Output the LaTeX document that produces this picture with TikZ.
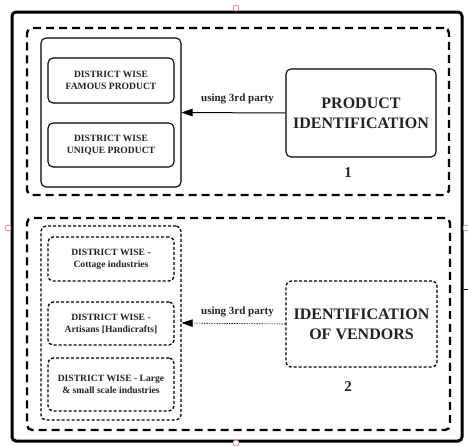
\documentclass[tikz,border=0pt]{standalone}
\usepackage{fontspec}
\setmainfont{Liberation Serif}
\usetikzlibrary{arrows.meta}
\definecolor{ink}{HTML}{222222}
\definecolor{handle}{HTML}{D98C99}
\tikzset{
  frame/.style={draw=black, line width=3pt, rounded corners=4pt},
  section/.style={draw=black, line width=2.4pt, rounded corners=5pt,
    dash pattern=on 8pt off 5pt},
  holder/.style={draw=black, line width=1.1pt, rounded corners=5pt},
  holderdot/.style={draw=black, line width=1.3pt, rounded corners=5pt,
    dash pattern=on 3pt off 2pt},
  itembox/.style={draw=black, line width=1.1pt, rounded corners=5pt,
    minimum width=126pt, align=center, text=ink,
    font=\fontsize{9.6}{12}\selectfont\bfseries},
  itemdot/.style={itembox, line width=1.3pt, dash pattern=on 3pt off 2pt},
  bigbox/.style={draw=black, line width=1.1pt, rounded corners=5pt,
    align=center, text=ink, font=\fontsize{16}{20}\selectfont\bfseries},
  bigdot/.style={bigbox, line width=1.3pt, dash pattern=on 3pt off 2pt},
  tag/.style={text=ink, font=\fontsize{11}{13}\selectfont\bfseries},
  num/.style={text=ink, font=\fontsize{15}{17}\selectfont\bfseries},
  link/.style={draw=black, line width=1pt, -{Triangle[length=11pt,width=7.5pt]}},
  linkdot/.style={draw=black, line width=0.6pt, dash pattern=on 1.5pt off 1pt,
    -{Triangle[length=11pt,width=7.5pt]}},
}
\begin{document}
\begin{tikzpicture}[x=1pt,y=-1pt]
\useasboundingbox (0,0) rectangle (468,445);

% outer frame and the two sections
\node[frame, minimum width=450pt, minimum height=429pt] (outer) at (237,226.5) {};
\node[section, minimum width=422pt, minimum height=167pt] (sec1) at (238,111.5) {};
\node[section, minimum width=423pt, minimum height=212pt] (sec2) at (238.5,324) {};

% section 1: products
\node[holder, minimum width=140pt, minimum height=149pt] (hold1) at (111,112.5) {};
\node[itembox, minimum height=45pt] (famous) at (111,80.5) {DISTRICT WISE\\FAMOUS PRODUCT};
\node[itembox, minimum height=44pt] (unique) at (111,145) {DISTRICT WISE\\UNIQUE PRODUCT};
\node[bigbox, minimum width=150pt, minimum height=88pt] (prodid) at (361,113) {PRODUCT\\IDENTIFICATION};
\node[num] (n1) at (348,173) {1};
\draw[link] (prodid.west) -- (hold1.east);
\node[tag] (tag1) at (237.5,99) {using 3rd party};

% section 2: vendors
\node[holderdot, minimum width=140pt, minimum height=194pt] (hold2) at (111,323) {};
\node[itemdot, minimum height=44pt] (cottage) at (111,259) {DISTRICT WISE -\\Cottage industries};
\node[itemdot, minimum height=43pt] (artisans) at (111,323.5) {DISTRICT WISE -\\Artisans [Handicrafts]};
\node[itemdot, minimum height=53pt] (large) at (111,384.5) {DISTRICT WISE - Large\\\& small scale industries};
\node[bigdot, minimum width=151pt, minimum height=86pt] (vendors) at (361.5,324) {IDENTIFICATION\\OF VENDORS};
\node[num] (n2) at (348,387) {2};
\draw[linkdot] (vendors.west) -- (hold2.east);
\node[tag] (tag2) at (237.5,312) {using 3rd party};

% short stub leaving the frame on the right
\coordinate (stub) at (468,289);
\draw[black, line width=0.6pt] (outer.east |- stub) -- (stub);

% selection handles on the frame
\foreach \p in {(236,8),(8,228),(466,228),(236,443)}
  \draw[handle, line width=0.8pt, fill=white] \p circle (3pt);
\end{tikzpicture}
\end{document}
